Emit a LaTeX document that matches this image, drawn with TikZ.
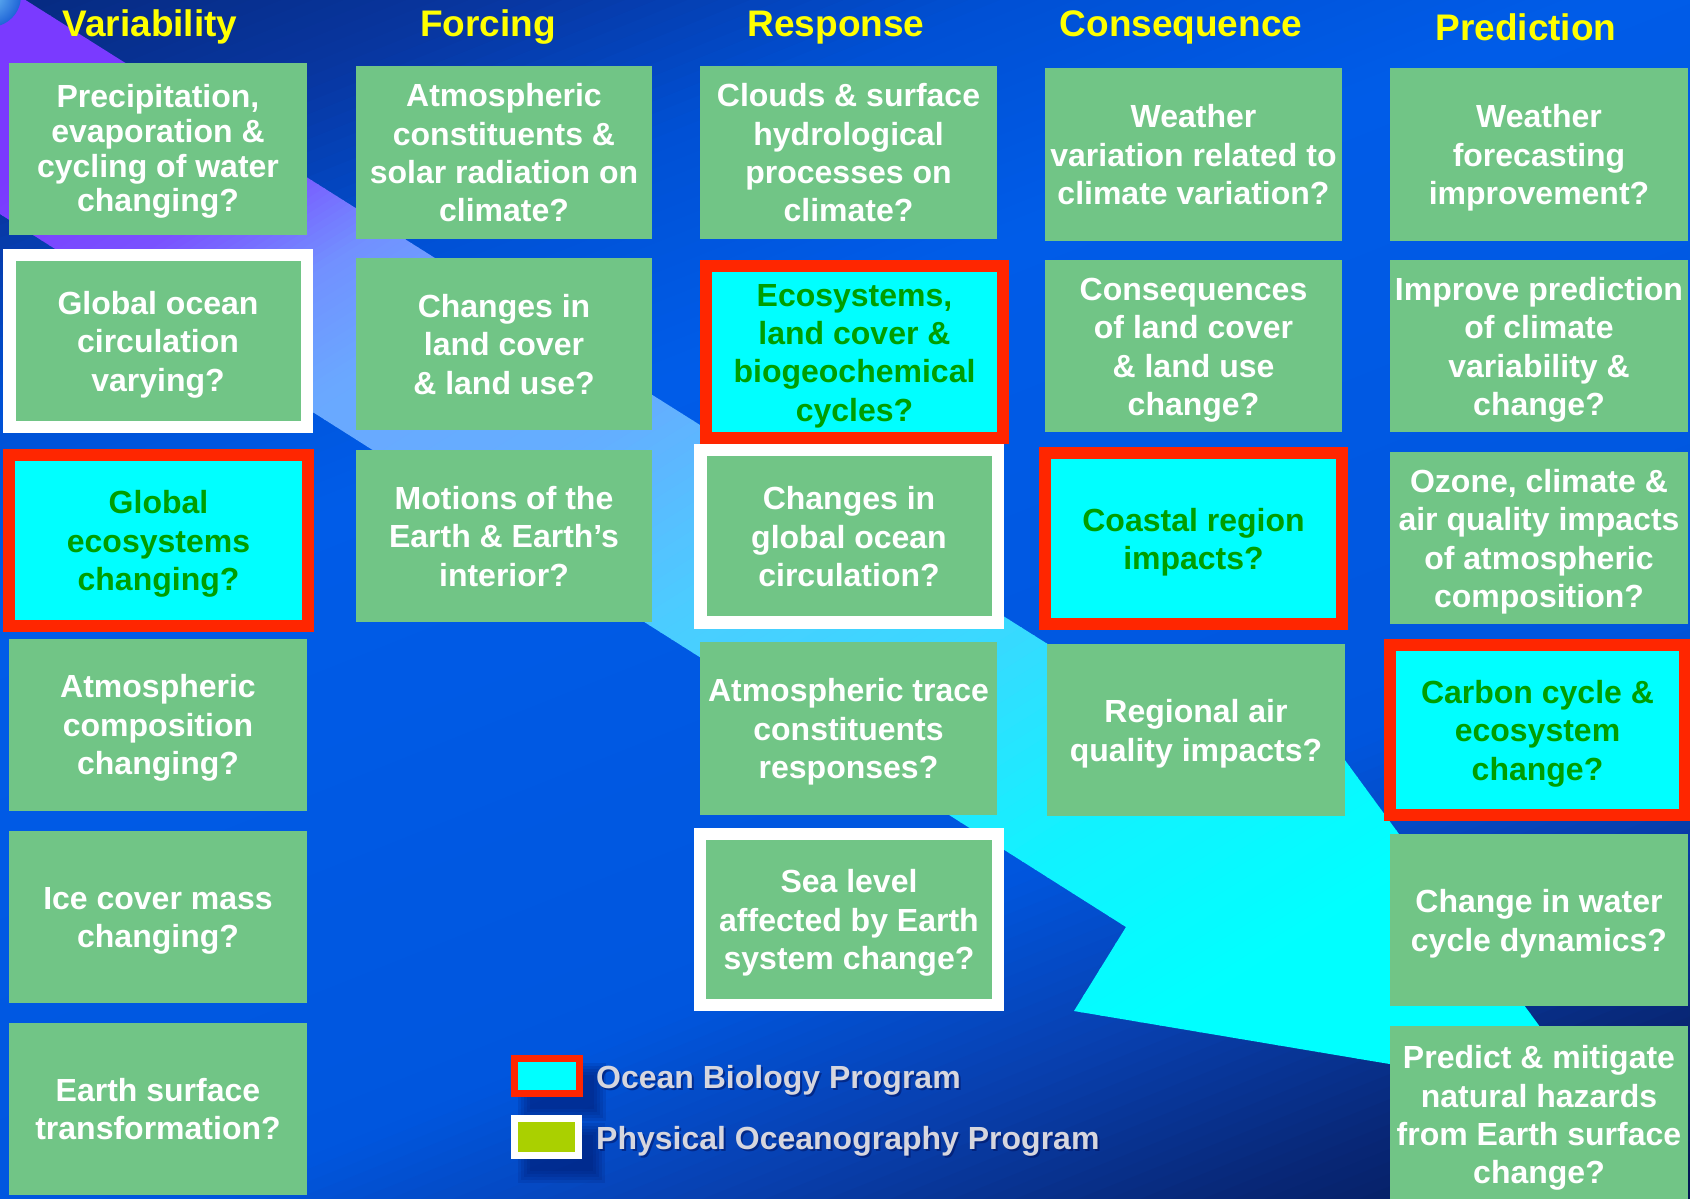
\documentclass[tikz,border=0pt]{standalone}
\usepackage{fontspec}
\setmainfont{Liberation Sans}
\definecolor{boxgreen}{RGB}{113,197,134}
\definecolor{obred}{RGB}{255,38,0}
\definecolor{obcyan}{RGB}{0,255,255}
\definecolor{txtgreen}{RGB}{0,158,0}
\definecolor{hdryellow}{RGB}{255,255,0}
\definecolor{legtext}{RGB}{214,214,222}
\definecolor{pogreen}{RGB}{170,208,0}
\definecolor{shadowblue}{RGB}{0,18,96}
\definecolor{globein}{RGB}{110,190,245}
\definecolor{globeout}{RGB}{30,100,215}
% background stops
\definecolor{gA}{RGB}{6,42,128}
\definecolor{gB}{RGB}{8,54,160}
\definecolor{gC}{RGB}{0,80,212}
\definecolor{gD}{RGB}{0,92,232}
\definecolor{gE}{RGB}{0,86,222}
\definecolor{gF}{RGB}{8,64,176}
\definecolor{gG}{RGB}{8,40,120}
\definecolor{gH}{RGB}{3,22,80}
% band stops
\definecolor{bA}{RGB}{122,58,255}
\definecolor{bB}{RGB}{122,82,255}
\definecolor{bC}{RGB}{114,144,255}
\definecolor{bD}{RGB}{106,168,255}
\definecolor{bE}{RGB}{100,174,255}
\definecolor{bF}{RGB}{76,204,255}
\definecolor{bG}{RGB}{58,216,255}
\definecolor{bH}{RGB}{18,242,255}
\definecolor{bI}{RGB}{0,255,255}
\newcommand\bxfont{\fontsize{32}{38.4}\selectfont\bfseries}
\newcommand\bxtightfont{\fontsize{32}{34.8}\selectfont\bfseries}
% line-box struts (first line ascent, last line descent) as in the slide
\newcommand\qt[1]{\rule{0pt}{31pt}#1\rule[-7.3pt]{0pt}{0pt}}
\newcommand\qtt[1]{\rule{0pt}{28.2pt}#1\rule[-6.6pt]{0pt}{0pt}}
\tikzset{
  qbox/.style={draw=none, fill=boxgreen, minimum width=297pt, minimum height=172pt,
    inner sep=0pt, align=center, text=white, font=\bxfont},
  obbox/.style={qbox, draw=obred, fill=obcyan, text=txtgreen, line width=12pt},
  pobox/.style={qbox, draw=white, line width=12.5pt},
  hdr/.style={anchor=base, text=hdryellow, inner sep=0pt,
    font=\fontsize{37}{44}\selectfont\bfseries},
  legtxt/.style={anchor=base west, inner sep=0pt, text=legtext,
    font=\fontsize{32}{38}\selectfont\bfseries},
  legshadow/.style={anchor=base west, inner sep=0pt, text=shadowblue, opacity=0.55,
    font=\fontsize{32}{38}\selectfont\bfseries},
}
\begin{document}
\begin{tikzpicture}[x=1pt,y=-1pt]
\useasboundingbox (0,0) rectangle (1690,1199);
\begin{scope}
\clip (0,0) rectangle (1690,1199);
% ---- background gradient (t = x + 2.5 y)
\foreach \ta/\tb/\ca/\cb in {-400/0/gA/gA, 0/500/gA/gB, 500/1000/gB/gC, 1000/1600/gC/gD,
   1600/3200/gD/gE, 3200/3700/gE/gF, 3700/4200/gF/gG, 4200/4700/gG/gH, 4700/5200/gH/gH}{
  \foreach \k in {0,...,15}{
    \pgfmathsetmacro\pa{\ta+(\tb-\ta)/16*\k}
    \pgfmathsetmacro\pb{\ta+(\tb-\ta)/16*(\k+1)+2}
    \pgfmathsetmacro\pp{100*(\k+0.5)/16}
    \fill[fill={\cb!\pp!\ca}] (\pa+250,-100) -- (\pb+250,-100) -- (\pb-3250,1300) -- (\pa-3250,1300) -- cycle;
  }
}
% ---- arrow band (t = x + 1.6 y)
\begin{scope}
\clip (-10,-22.3) -- (1240,765.2) -- (1290,685) -- (1592,1098) -- (1074,1011)
      -- (1126,927) -- (-10,207.7) -- cycle;
\foreach \ta/\tb/\ca/\cb in {-300/300/bA/bA, 300/550/bA/bB, 550/750/bB/bC, 750/950/bC/bD,
   950/1300/bD/bE, 1300/1650/bE/bF, 1650/2000/bF/bG, 2000/2400/bG/bH, 2400/2800/bH/bI,
   2800/3600/bI/bI}{
  \foreach \k in {0,...,15}{
    \pgfmathsetmacro\pa{\ta+(\tb-\ta)/16*\k}
    \pgfmathsetmacro\pb{\ta+(\tb-\ta)/16*(\k+1)+2}
    \pgfmathsetmacro\pp{100*(\k+0.5)/16}
    \fill[fill={\cb!\pp!\ca}] (\pa+160,-100) -- (\pb+160,-100) -- (\pb-2080,1300) -- (\pa-2080,1300) -- cycle;
  }
}
\end{scope}
% ---- globe in the corner
\shade[inner color=globein, outer color=globeout] (-10,-4) circle (31);

% ---- headers
\node[hdr] (hvar) at (150,37) {Variability};
\node[hdr] (hfor) at (488,37) {Forcing};
\node[hdr] (hres) at (836,37) {Response};
\node[hdr] (hcon) at (1181,37) {Consequence};
\node[hdr] (hpre) at (1526,41) {Prediction};

% ---- column 1: Variability
\node[qbox, minimum width=298pt, font=\bxtightfont] (v1) at (158,149) {\qtt{Precipitation,\\evaporation \&\\cycling of water\\changing?}};
\node[pobox, minimum width=297.5pt] (v2) at (158,341) {\qt{Global ocean\\circulation\\varying?}};
\node[obbox, minimum width=299pt, minimum height=171pt] (v3) at (158.5,540.5) {\qt{Global\\ecosystems\\changing?}};
\node[qbox, minimum width=298pt] (v4) at (158,724.5) {\qt{Atmospheric\\composition\\changing?}};
\node[qbox, minimum width=298pt] (v5) at (158,916.5) {\qt{Ice cover mass\\changing?}};
\node[qbox, minimum width=298pt] (v6) at (158,1108.5) {\qt{Earth surface\\transformation?}};

% ---- column 2: Forcing
\node[qbox, minimum width=296pt] (f1) at (504,152.5) {\qt{Atmospheric\\constituents \&\\solar radiation on\\climate?}};
\node[qbox, minimum width=296pt] (f2) at (504,344) {\qt{Changes in\\land cover\\\& land use?}};
\node[qbox, minimum width=296pt] (f3) at (504,536) {\qt{Motions of the\\Earth \& Earth’s\\interior?}};

% ---- column 3: Response
\node[qbox] (r1) at (848.5,152.5) {\qt{Clouds \& surface\\hydrological\\processes on\\climate?}};
\node[obbox, minimum height=171.5pt] (r2) at (854.5,351.75) {\qt{Ecosystems,\\land cover \&\\biogeochemical\\cycles?}};
\node[pobox, minimum width=297.5pt, minimum height=172.5pt] (r3) at (849,536.25) {\qt{Changes in\\global ocean\\circulation?}};
\node[qbox, minimum height=173pt] (r4) at (848.5,728.5) {\qt{Atmospheric trace\\constituents\\responses?}};
\node[pobox, minimum width=298pt, minimum height=171pt] (r5) at (849,919.5) {\qt{Sea level\\affected by Earth\\system change?}};

% ---- column 4: Consequence
\node[qbox] (c1) at (1193.5,154.5) {\qt{Weather\\variation related to\\climate variation?}};
\node[qbox] (c2) at (1193.5,346) {\qt{Consequences\\of land cover\\\& land use\\change?}};
\node[obbox, minimum height=171pt] (c3) at (1193.5,538.5) {\qt{Coastal region\\impacts?}};
\node[qbox, minimum width=298.5pt] (c4) at (1196,730) {\qt{Regional air\\quality impacts?}};

% ---- column 5: Prediction
\node[qbox, minimum width=298pt] (p1) at (1539,154.5) {\qt{Weather\\forecasting\\improvement?}};
\node[qbox, minimum width=298pt] (p2) at (1539,346) {\qt{Improve prediction\\of climate\\variability \&\\change?}};
\node[qbox, minimum width=298pt] (p3) at (1539,538) {\qt{Ozone, climate \&\\air quality impacts\\of atmospheric\\composition?}};
\node[obbox, minimum width=295pt, minimum height=170pt] (p4) at (1537.5,730) {\qt{Carbon cycle \&\\ecosystem\\change?}};
\node[qbox, minimum width=298pt] (p5) at (1539,920) {\qt{Change in water\\cycle dynamics?}};
\node[qbox, minimum width=298pt, minimum height=177pt] (p6) at (1539,1114.5) {\qt{Predict \& mitigate\\natural hazards\\from Earth surface\\change?}};
\end{scope}

% ---- legend shadows
\foreach \s in {8,5,2,-1,-4}{
  \fill[shadowblue, opacity=0.13] (526-\s,1071-\s) rectangle (598+\s,1113+\s);
  \fill[shadowblue, opacity=0.13] (526-\s,1131-\s) rectangle (597+\s,1175+\s);
}
% ---- legend
\node[draw=obred, fill=obcyan, line width=7pt, minimum width=64.5pt, minimum height=34.5pt, inner sep=0pt] (lob) at (547,1076) {};
\node[draw=white, fill=pogreen, line width=7pt, minimum width=64pt, minimum height=37pt, inner sep=0pt] (lpo) at (546.5,1137) {};
\node[legshadow] (lobs) at (598,1090.5) {Ocean Biology Program};
\node[legshadow] (lpos) at (598,1151) {Physical Oceanography Program};
\node[legtxt] (lobt) at (596,1088.5) {Ocean Biology Program};
\node[legtxt] (lpot) at (596,1149) {Physical Oceanography Program};
\end{tikzpicture}
\end{document}
